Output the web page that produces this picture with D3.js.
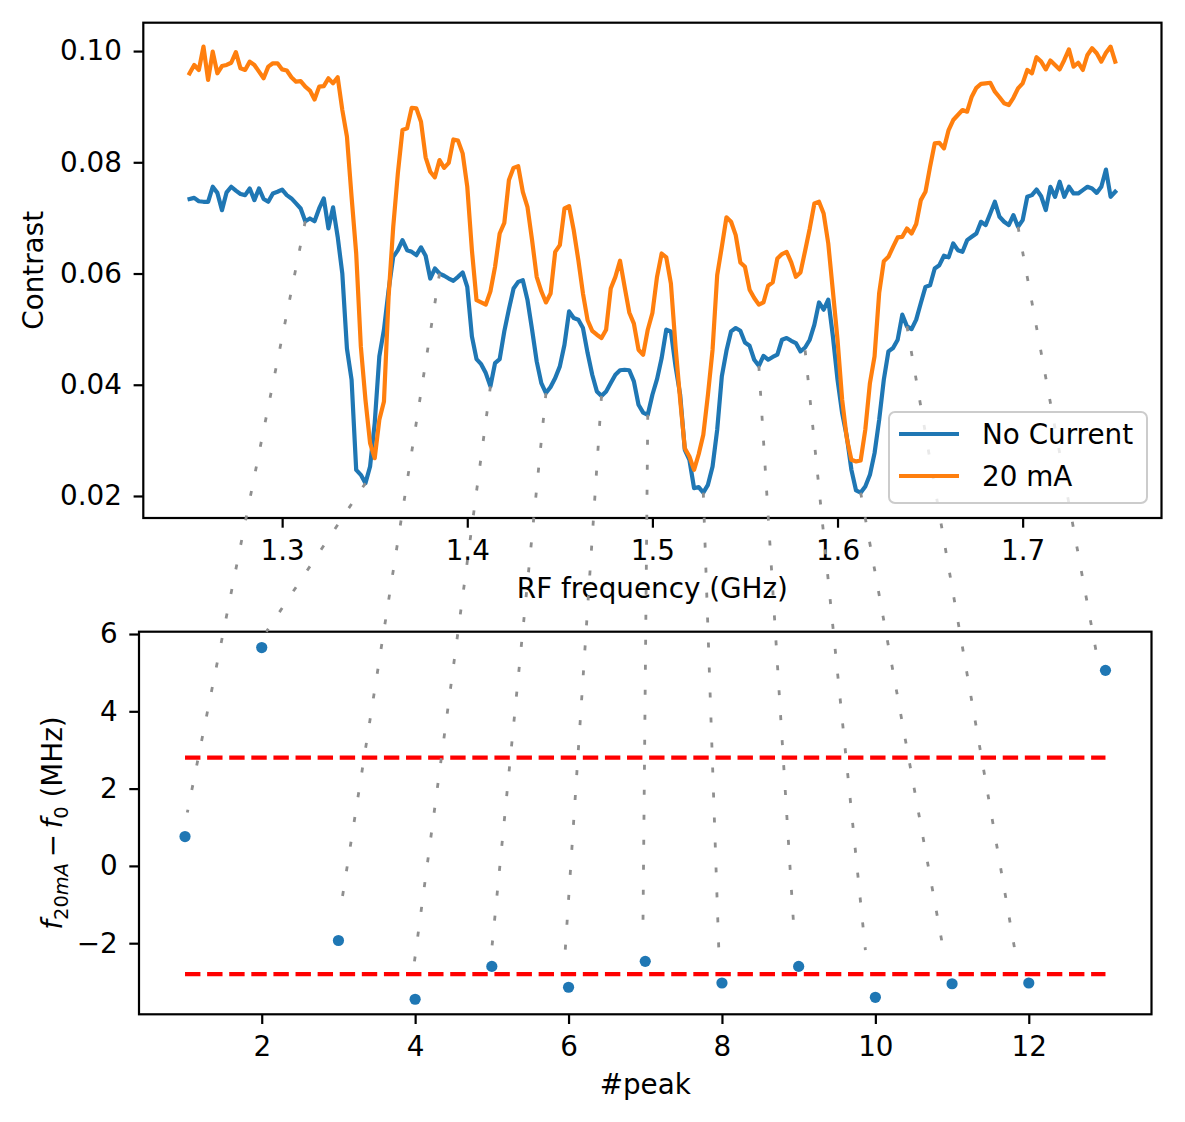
<!DOCTYPE html>
<html>
<head>
<meta charset="utf-8">
<script src="https://cdn.jsdelivr.net/npm/d3@7"></script>
<style>
  html, body { margin: 0; padding: 0; background: #fff; }
  svg { display: block; font-family: "DejaVu Sans", sans-serif; }
</style>
</head>
<body>
<svg id="chart" width="1185" height="1122"></svg>
<script>
// RF sweep: 1.25 .. 1.75 GHz, one sample every 2.5 MHz
const FREQ_START = 1.25;
const FREQ_STEP = 0.0025;

// contrast, no current through the wire
const noCurrent = [
  0.0734, 0.0736, 0.0730, 0.0729, 0.0729, 0.0756, 0.0745, 0.0714, 0.0746, 0.0756,
  0.0749, 0.0743, 0.0741, 0.0753, 0.0732, 0.0753, 0.0734, 0.0729, 0.0744, 0.0747,
  0.0751, 0.0741, 0.0735, 0.0726, 0.0717, 0.0694, 0.0699, 0.0694, 0.0717, 0.0735,
  0.0681, 0.0719, 0.0666, 0.0600, 0.0465, 0.0409, 0.0247, 0.0238, 0.0223, 0.0253,
  0.0331, 0.0451, 0.0499, 0.0570, 0.0630, 0.0642, 0.0660, 0.0642, 0.0639, 0.0633,
  0.0647, 0.0632, 0.0591, 0.0609, 0.0600, 0.0596, 0.0591, 0.0587, 0.0594, 0.0602,
  0.0576, 0.0487, 0.0446, 0.0437, 0.0421, 0.0397, 0.0439, 0.0446, 0.0496, 0.0536,
  0.0573, 0.0585, 0.0588, 0.0553, 0.0499, 0.0442, 0.0403, 0.0385, 0.0396, 0.0412,
  0.0433, 0.0472, 0.0532, 0.0520, 0.0517, 0.0502, 0.0457, 0.0418, 0.0388, 0.0380,
  0.0388, 0.0403, 0.0418, 0.0426, 0.0427, 0.0426, 0.0406, 0.0364, 0.0350, 0.0346,
  0.0382, 0.0410, 0.0448, 0.0499, 0.0496, 0.0433, 0.0382, 0.0283, 0.0265, 0.0214,
  0.0216, 0.0206, 0.0220, 0.0253, 0.0319, 0.0415, 0.0461, 0.0496, 0.0502, 0.0497,
  0.0476, 0.0470, 0.0445, 0.0434, 0.0452, 0.0445, 0.0450, 0.0454, 0.0481, 0.0484,
  0.0479, 0.0475, 0.0460, 0.0467, 0.0481, 0.0508, 0.0548, 0.0535, 0.0553, 0.0487,
  0.0409, 0.0349, 0.0307, 0.0247, 0.0210, 0.0206, 0.0217, 0.0238, 0.0277, 0.0337,
  0.0409, 0.0460, 0.0466, 0.0481, 0.0526, 0.0505, 0.0500, 0.0517, 0.0547, 0.0576,
  0.0579, 0.0609, 0.0615, 0.0632, 0.0629, 0.0654, 0.0642, 0.0639, 0.0660, 0.0666,
  0.0672, 0.0693, 0.0687, 0.0708, 0.0729, 0.0702, 0.0693, 0.0687, 0.0705, 0.0684,
  0.0696, 0.0738, 0.0741, 0.0751, 0.0739, 0.0714, 0.0756, 0.0738, 0.0765, 0.0738,
  0.0756, 0.0744, 0.0744, 0.0750, 0.0756, 0.0753, 0.0745, 0.0756, 0.0787, 0.0738,
  0.0747
];

// contrast with 20 mA
const current20 = [
  0.0960, 0.0975, 0.0966, 0.1008, 0.0948, 0.0999, 0.0960, 0.0973, 0.0975, 0.0979,
  0.0998, 0.0969, 0.0966, 0.0981, 0.0975, 0.0963, 0.0951, 0.0972, 0.0978, 0.0978,
  0.0967, 0.0965, 0.0953, 0.0945, 0.0946, 0.0936, 0.0929, 0.0913, 0.0936, 0.0937,
  0.0951, 0.0942, 0.0953, 0.0894, 0.0846, 0.0738, 0.0636, 0.0469, 0.0373, 0.0295,
  0.0268, 0.0337, 0.0370, 0.0558, 0.0684, 0.0780, 0.0858, 0.0861, 0.0898, 0.0897,
  0.0873, 0.0809, 0.0783, 0.0773, 0.0804, 0.0790, 0.0799, 0.0841, 0.0839, 0.0816,
  0.0756, 0.0642, 0.0552, 0.0548, 0.0544, 0.0568, 0.0612, 0.0672, 0.0691, 0.0768,
  0.0790, 0.0793, 0.0747, 0.0720, 0.0660, 0.0594, 0.0568, 0.0548, 0.0564, 0.0639,
  0.0651, 0.0717, 0.0721, 0.0678, 0.0624, 0.0564, 0.0516, 0.0497, 0.0490, 0.0484,
  0.0499, 0.0573, 0.0594, 0.0623, 0.0576, 0.0530, 0.0510, 0.0463, 0.0454, 0.0499,
  0.0529, 0.0594, 0.0636, 0.0629, 0.0582, 0.0469, 0.0373, 0.0286, 0.0271, 0.0247,
  0.0275, 0.0310, 0.0382, 0.0463, 0.0597, 0.0648, 0.0701, 0.0693, 0.0669, 0.0620,
  0.0612, 0.0571, 0.0556, 0.0544, 0.0548, 0.0578, 0.0584, 0.0627, 0.0635, 0.0639,
  0.0620, 0.0594, 0.0602, 0.0641, 0.0681, 0.0726, 0.0729, 0.0708, 0.0654, 0.0568,
  0.0481, 0.0373, 0.0304, 0.0265, 0.0262, 0.0264, 0.0319, 0.0403, 0.0451, 0.0565,
  0.0622, 0.0630, 0.0648, 0.0665, 0.0666, 0.0681, 0.0672, 0.0689, 0.0732, 0.0747,
  0.0792, 0.0834, 0.0835, 0.0825, 0.0858, 0.0876, 0.0885, 0.0894, 0.0891, 0.0918,
  0.0934, 0.0941, 0.0942, 0.0943, 0.0927, 0.0917, 0.0906, 0.0903, 0.0916, 0.0933,
  0.0942, 0.0966, 0.0960, 0.0989, 0.0981, 0.0967, 0.0983, 0.0975, 0.0967, 0.0984,
  0.1003, 0.0972, 0.0979, 0.0966, 0.0993, 0.1005, 0.0996, 0.0981, 0.0997, 0.1008,
  0.0981
];

// peak shifts (MHz)
const peakNumber = [1, 2, 3, 4, 5, 6, 7, 8, 9, 10, 11, 12, 13];
const peakShift = [0.76, 5.65, -1.93, -3.45, -2.60, -3.14, -2.47, -3.03, -2.60, -3.40, -3.05, -3.03, 5.06];
const bandLimits = [2.8, -2.8];

// dotted guides: dip in the top panel -> peak in the bottom panel
const linkFreq = [1.3125, 1.345, 1.385, 1.4125, 1.4425, 1.4725, 1.4975, 1.5275, 1.5575, 1.5825, 1.6125, 1.6375, 1.6975];
const linkContrast = [0.0694, 0.0223, 0.0600, 0.0397, 0.0385, 0.0380, 0.0346, 0.0206, 0.0434, 0.0462, 0.0206, 0.0505, 0.0684];
const linkPeak = [1.03, 2.06, 3.04, 3.99, 5.00, 5.95, 6.97, 7.96, 8.94, 9.87, 10.88, 11.83, 12.88];
const linkShift = [1.38, 6.06, -0.96, -2.49, -2.13, -2.39, -1.58, -2.23, -1.71, -2.18, -2.10, -2.31, 5.53];

const topXTicks = [1.3, 1.4, 1.5, 1.6, 1.7];
const topYTicks = [0.02, 0.04, 0.06, 0.08, 0.10];
const botXTicks = [2, 4, 6, 8, 10, 12];
const botYTicks = [-2, 0, 2, 4, 6];

const series = [
  { name: "No Current", values: noCurrent, color: "#1f77b4" },
  { name: "20 mA", values: current20, color: "#ff7f0e" }
];
const freq = noCurrent.map((_, i) => FREQ_START + i * FREQ_STEP);

// Layout
const FONT = 27.8;
const TICK = 9.7;
const SPINE = 2.2;
const topBox = { left: 143.3, right: 1161.5, top: 22.7, bottom: 518 };
const botBox = { left: 139, right: 1151.5, top: 631.7, bottom: 1014.3 };

const svg = d3.select("#chart");

// Scales
const xTop = d3.scaleLinear().domain([1.225, 1.775]).range([topBox.left, topBox.right]);
const yTop = d3.scaleLinear().domain([0.01604, 0.1051]).range([topBox.bottom, topBox.top]);
const xBot = d3.scaleLinear().domain([0.4, 13.6]).range([botBox.left, botBox.right]);
const yBot = d3.scaleLinear().domain([-3.84, 6.06]).range([botBox.bottom, botBox.top]);

function styleAxis(g) {
  g.select(".domain").remove();
  g.selectAll(".tick line").attr("stroke", "#000").attr("stroke-width", SPINE);
  g.selectAll(".tick text").attr("fill", "#000").style("font-size", FONT + "px")
    .style("font-family", "DejaVu Sans");
}

function drawAxes(box, x, y, xTicks, yTicks, xFmt, yFmt) {
  svg.append("g")
    .attr("transform", `translate(0,${box.bottom})`)
    .call(d3.axisBottom(x).tickValues(xTicks).tickFormat(xFmt).tickSize(TICK).tickPadding(12.6))
    .call(styleAxis);
  svg.append("g")
    .attr("transform", `translate(${box.left},0)`)
    .call(d3.axisLeft(y).tickValues(yTicks).tickFormat(yFmt).tickSize(TICK).tickPadding(11.6))
    .call(styleAxis);
}

function drawFrame(box) {
  svg.append("rect")
    .attr("x", box.left).attr("y", box.top)
    .attr("width", box.right - box.left).attr("height", box.bottom - box.top)
    .attr("fill", "none").attr("stroke", "#000").attr("stroke-width", SPINE);
}

// Top panel
drawAxes(topBox, xTop, yTop, topXTicks, topYTicks, d3.format(".1f"), d3.format(".2f"));

const line = d3.line().x((d, i) => xTop(freq[i])).y(d => yTop(d));
svg.append("g").selectAll("path")
  .data(series)
  .join("path")
  .attr("d", d => line(d.values))
  .attr("fill", "none")
  .attr("stroke", d => d.color)
  .attr("stroke-width", 4.2)
  .attr("stroke-linejoin", "round")
  .attr("stroke-linecap", "square");

drawFrame(topBox);

svg.append("text")
  .attr("x", (topBox.left + topBox.right) / 2).attr("y", 598)
  .attr("text-anchor", "middle").style("font-size", FONT + "px")
  .text("RF frequency (GHz)");

svg.append("text")
  .attr("transform", `translate(43,${(topBox.top + topBox.bottom) / 2}) rotate(-90)`)
  .attr("text-anchor", "middle").style("font-size", FONT + "px")
  .text("Contrast");

// Bottom panel
drawAxes(botBox, xBot, yBot, botXTicks, botYTicks, d3.format("d"), d3.format("d"));

svg.append("g").selectAll("line")
  .data(bandLimits)
  .join("line")
  .attr("x1", xBot(peakNumber[0])).attr("x2", xBot(peakNumber[peakNumber.length - 1]))
  .attr("y1", d => yBot(d)).attr("y2", d => yBot(d))
  .attr("stroke", "red").attr("stroke-width", 4.2)
  .attr("stroke-dasharray", "15.4 6.7");

svg.append("g").selectAll("circle")
  .data(peakNumber)
  .join("circle")
  .attr("cx", d => xBot(d))
  .attr("cy", (d, i) => yBot(peakShift[i]))
  .attr("r", 5.6)
  .attr("fill", "#1f77b4");

drawFrame(botBox);

svg.append("text")
  .attr("x", (botBox.left + botBox.right) / 2).attr("y", 1094)
  .attr("text-anchor", "middle").style("font-size", FONT + "px")
  .text("#peak");

const ylab = svg.append("text")
  .attr("transform", `translate(62,${(botBox.top + botBox.bottom) / 2}) rotate(-90)`)
  .attr("text-anchor", "middle").style("font-size", FONT + "px");
ylab.append("tspan").style("font-style", "italic").text("f");
ylab.append("tspan").attr("dy", 6).style("font-size", (FONT * 0.7) + "px").text("20");
ylab.append("tspan").style("font-size", (FONT * 0.7) + "px").style("font-style", "italic").text("mA");
ylab.append("tspan").attr("dy", -6).text("\u2009\u2212\u2009");
ylab.append("tspan").style("font-style", "italic").text("f");
ylab.append("tspan").attr("dy", 6).style("font-size", (FONT * 0.7) + "px").text("0");
ylab.append("tspan").attr("dy", -6).text(" (MHz)");

// Dotted guides across both panels
svg.append("g").selectAll("line")
  .data(linkFreq)
  .join("line")
  .attr("x1", d => xTop(d))
  .attr("y1", (d, i) => yTop(linkContrast[i]))
  .attr("x2", (d, i) => xBot(linkPeak[i]))
  .attr("y2", (d, i) => yBot(linkShift[i]))
  .attr("stroke", "#8f8f8f")
  .attr("stroke-width", 2.8)
  .attr("stroke-dasharray", "5 20");

// Legend
const legend = svg.append("g").attr("transform", "translate(889,412)");
legend.append("rect")
  .attr("width", 258).attr("height", 91).attr("rx", 6)
  .attr("fill", "#fff").attr("fill-opacity", 0.8)
  .attr("stroke", "#cccccc").attr("stroke-width", 2);
const item = legend.selectAll("g.item")
  .data(series)
  .join("g")
  .attr("class", "item")
  .attr("transform", (d, i) => `translate(0,${22 + i * 42})`);
item.append("line")
  .attr("x1", 10).attr("x2", 70)
  .attr("stroke", d => d.color).attr("stroke-width", 4.2);
item.append("text")
  .attr("x", 93).attr("y", 9.5)
  .style("font-size", FONT + "px")
  .text(d => d.name);
</script>
</body>
</html>
